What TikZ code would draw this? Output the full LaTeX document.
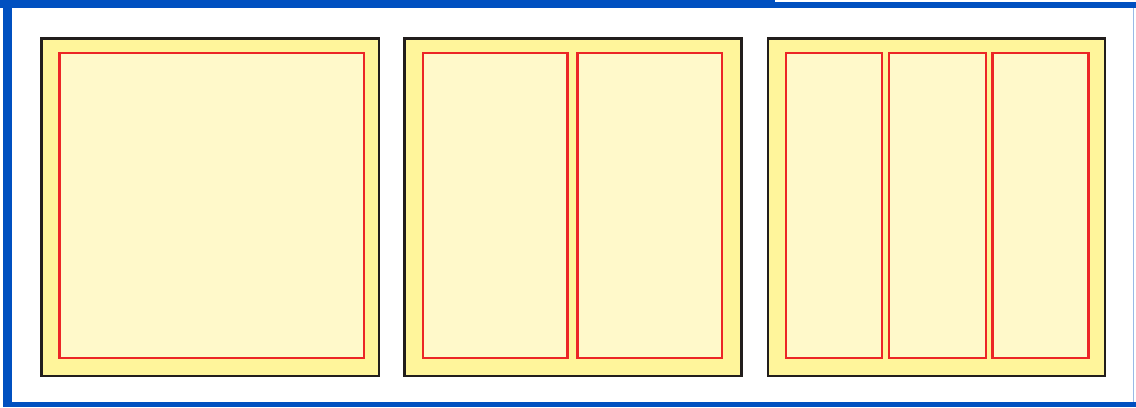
\documentclass[tikz,border=0pt]{standalone}
\usepackage{tikz}
\usepackage{xcolor}
\definecolor{frameblue}{RGB}{0,80,192}
\definecolor{paneyellow}{RGB}{255,245,155}
\definecolor{boxyellow}{RGB}{255,249,202}
\definecolor{boxred}{RGB}{236,38,38}
\definecolor{paneblack}{RGB}{34,30,28}

\begin{document}
\begin{tikzpicture}[x=0.02cm,y=-0.02cm,line join=miter,
  pane/.style={draw=paneblack,fill=paneyellow,line width=1.3pt},
  column/.style={draw=boxred,fill=boxyellow,line width=1.4pt}]
\useasboundingbox (0,0) rectangle (1136,407);
% outer frame
\fill[frameblue] (3,0) rectangle (11.5,407);
\fill[frameblue] (0,0) rectangle (775,8);
\fill[frameblue] (775,2) rectangle (1136,8);
\fill[frameblue] (3,402) rectangle (1136,407);
\fill[frameblue!40] (1133,8) rectangle (1134.2,402);
% one column
\draw[pane] (41.5,38.5) rectangle (379,376);
\draw[column] (59.7,53) rectangle (364,358);
% two columns
\draw[pane] (404.5,38.5) rectangle (741.5,376);
\draw[column] (423,53) rectangle (567.5,358);
\draw[column] (577.7,53) rectangle (722,358);
% three columns
\draw[pane] (768,38.5) rectangle (1105,376);
\draw[column] (786,53) rectangle (882,358);
\draw[column] (889,53) rectangle (986,358);
\draw[column] (992.5,53) rectangle (1088.7,358);
\end{tikzpicture}
\end{document}
